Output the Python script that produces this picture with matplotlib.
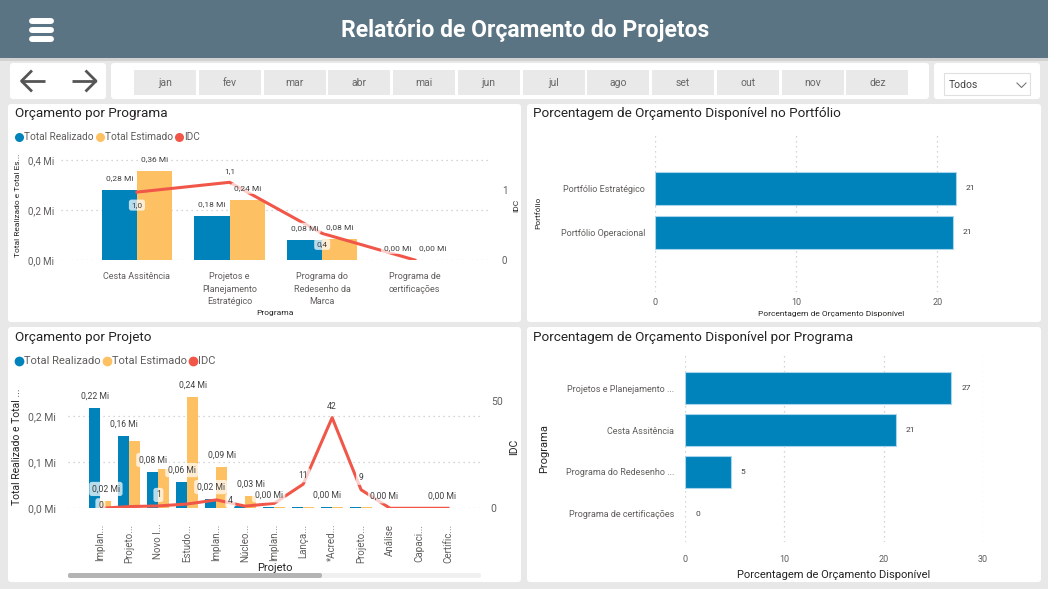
import numpy as np
import matplotlib
matplotlib.use('Agg')
import matplotlib.pyplot as plt
from matplotlib.patches import FancyBboxPatch, Rectangle

plt.rcParams['font.family'] = ['Roboto', 'DejaVu Sans']

# ── dados ─────────────────────────────────────────────────────────────
meses = ['jan', 'fev', 'mar', 'abr', 'mai', 'jun', 'jul', 'ago', 'set', 'out', 'nov', 'dez']

programas = ['Cesta Assitência', 'Projetos e\nPlanejamento\nEstratégico',
             'Programa do\nRedesenho da\nMarca', 'Programa de\ncertificações']
prog_realizado = [0.28, 0.176, 0.08, 0.0]
prog_estimado = [0.356, 0.24, 0.083, 0.0]
prog_idc = [0.97, 1.11, 0.38, 0.0]

projetos = ['Implan...', 'Projeto...', 'Novo I...', 'Estudo...', 'Implan...', 'Núcleo...',
            'Implan...', 'Lança...', '*Acred...', 'Projeto...', 'Análise', 'Capaci...', 'Certific...']
proj_realizado = [0.217, 0.157, 0.079, 0.057, 0.020, 0.004, 0.002, 0.002, 0.002, 0.002, 0, 0, 0]
proj_estimado = [0.016, 0.147, 0.085, 0.242, 0.090, 0.026, 0.002, 0.002, 0.002, 0.002, 0, 0, 0]
proj_idc = [0, 0.8, 1.1, 2.0, 3.9, 1.0, 2.3, 11.2, 42.1, 8.6, 0, 0, 0]

portfolios = ['Portfólio Estratégico', 'Portfólio Operacional']
port_pct = [21.3, 21.1]

prog_nomes_pct = ['Projetos e Planejamento ...', 'Cesta Assitência',
                  'Programa do Redesenho ...', 'Programa de certificações']
prog_pct = [26.8, 21.2, 4.6, 0.0]

# ── estilo ────────────────────────────────────────────────────────────
W, H = 1048, 589
BLUE = '#0083bb'
ORANGE = '#fdc163'
RED = '#f05749'
BG = '#e8e8e8'
HEADER = '#5a7483'
TXT = '#252423'
GRAY = '#605e5c'
GRID = '#c8c8c8'
PT = 0.72  # px -> pt

fig = plt.figure(figsize=(W / 100, H / 100), dpi=100)
fig.patch.set_facecolor(BG)

bg = fig.add_axes([0, 0, 1, 1])
bg.set_xlim(0, W)
bg.set_ylim(H, 0)
bg.axis('off')


def px_axes(x0, y0, x1, y1):
    return fig.add_axes([x0 / W, 1 - y1 / H, (x1 - x0) / W, (y1 - y0) / H])


def box(x0, y0, x1, y1, fc='white', r=3, ec='none', lw=0):
    bg.add_patch(FancyBboxPatch((x0, y0), x1 - x0, y1 - y0,
                                boxstyle=f'round,pad=0,rounding_size={r}',
                                fc=fc, ec=ec, lw=lw))


def val_label(ax, x, y, s, xyc, dx=0, dy=0, size=6):
    ax.annotate(s, (x, y), xycoords=xyc, xytext=(dx * PT, dy * PT),
                textcoords='offset points', ha='center', va='center',
                fontsize=size, color='#404040', zorder=10,
                bbox=dict(boxstyle='round,pad=0.3', fc='white', ec='none', alpha=0.72))


def legenda(x, y, size):
    itens = [('Total Realizado', BLUE), ('Total Estimado', ORANGE), ('IDC', RED)]
    for nome, cor in itens:
        bg.plot(x, y, 'o', ms=size * 0.75, color=cor)
        t = bg.text(x + 5, y, nome, fontsize=size, color=GRAY, va='center', ha='left')
        fig.canvas.draw()
        bb = t.get_window_extent()
        x = bb.x1 + 6


# ── cabeçalho ─────────────────────────────────────────────────────────
bg.add_patch(Rectangle((0, 0), W, 58, fc=HEADER, ec='none'))
bg.add_patch(Rectangle((0, 58), W, 3, fc='#d2d2d2', ec='none'))
for yy in (21, 29.5, 38.5):
    bg.plot([31.5, 50.5], [yy, yy], color='white', lw=4.3, solid_capstyle='round')
bg.text(525, 30, 'Relatório de Orçamento do Projetos', color='white', fontsize=16.5,
        fontweight='bold', ha='center', va='center')

# barra de navegação
box(10, 63, 106, 99)
box(111, 63, 929, 99)
box(934, 63, 1040, 99)
for xs in ([21, 45], [72, 96]):
    bg.plot(xs, [81, 81], color='#555555', lw=2, solid_capstyle='butt')
bg.plot([31, 21.5, 31], [71.5, 81, 90.5], color='#555555', lw=2)
bg.plot([86.5, 96, 86.5], [71.5, 81, 90.5], color='#555555', lw=2)
for i, m in enumerate(meses):
    x0 = 134 + i * 64.75
    bg.add_patch(Rectangle((x0, 70), 62, 25, fc='#e9e9e9', ec='none'))
    bg.text(x0 + 31, 83, m, fontsize=7.5, color='#666666', ha='center', va='center')
bg.add_patch(Rectangle((944, 73), 86, 22, fc='white', ec='#e0e0e0', lw=0.8))
bg.text(949, 85, 'Todos', fontsize=7.5, color='#444444', ha='left', va='center')
bg.plot([1017, 1021.5, 1026], [83, 87.5, 83], color='#777777', lw=0.8)

# painéis
box(8, 104, 521, 322)
box(527, 104, 1041, 322)
box(8, 327, 521, 582)
box(527, 327, 1041, 582)

bg.text(15, 114, 'Orçamento por Programa', fontsize=9.7, color=TXT, va='center')
bg.text(533, 114, 'Porcentagem de Orçamento Disponível no Portfólio', fontsize=9.7, color=TXT, va='center')
bg.text(15, 338, 'Orçamento por Projeto', fontsize=9.7, color=TXT, va='center')
bg.text(533, 338, 'Porcentagem de Orçamento Disponível por Programa', fontsize=9.7, color=TXT, va='center')

legenda(19, 137, 7.3)
legenda(19, 361, 8)


def fmt_mi(v):
    return f'{v:.2f} Mi'.replace('.', ',')


def combo(ax, real, est, idc, bw):
    x = np.arange(len(real))
    ax.bar(x - bw / 2, real, bw, color=BLUE, zorder=2)
    ax.bar(x + bw / 2, est, bw, color=ORANGE, zorder=2)
    ax.set_facecolor('none')
    for s in ax.spines.values():
        s.set_visible(False)
    ax.yaxis.grid(True, linestyle=(0, (1, 3)), color=GRID, lw=0.9)
    ax.set_axisbelow(True)
    ax.tick_params(length=0, colors=GRAY)
    ax2 = ax.twinx()
    ax2.plot(x, idc, color=RED, lw=2.2, zorder=3)
    for s in ax2.spines.values():
        s.set_visible(False)
    ax2.tick_params(length=0, colors=GRAY)
    return x, ax2


# ── Orçamento por Programa ────────────────────────────────────────────
ax = px_axes(61, 150, 488, 260)
x, ax2 = combo(ax, prog_realizado, prog_estimado, prog_idc, 0.38)
ax.set_xlim(-0.82, 3.79)
ax.set_ylim(0, 0.44)
ax2.set_ylim(0, 110 / 70)
ax.set_yticks([0, 0.2, 0.4], ['0,0 Mi', '0,2 Mi', '0,4 Mi'], fontsize=7)
ax2.set_yticks([0, 1], ['0', '1'], fontsize=7)
ax.set_xticks(x, programas, fontsize=6.5, linespacing=1.45)
ax.tick_params(axis='x', pad=9)
ax.tick_params(axis='y', pad=5)
ax2.tick_params(axis='y', pad=10)
ax.set_xlabel('Programa', fontsize=6, color=TXT, labelpad=3)
ax.set_ylabel('Total Realizado e Total Es...', fontsize=6, color=TXT, labelpad=5)
ax2.set_ylabel('IDC', fontsize=6, color=TXT, labelpad=4)
for i in range(len(x)):
    val_label(ax2, x[i] - 0.19, prog_realizado[i], fmt_mi(prog_realizado[i]), ax.transData, dy=11.7)
    val_label(ax2, x[i] + 0.19, prog_estimado[i], fmt_mi(prog_estimado[i]), ax.transData, dy=11.7)
idc_dy = [-13, 11, -11]
for i, dy in enumerate(idc_dy):
    val_label(ax2, x[i], prog_idc[i], f'{prog_idc[i]:.1f}'.replace('.', ','), ax2.transData, dy=dy)

# ── Orçamento por Projeto ─────────────────────────────────────────────
ax = px_axes(68, 385, 481, 508.3)
x, ax2 = combo(ax, proj_realizado, proj_estimado, proj_idc, 0.38)
ax.set_xlim(-1.12, 13.14)
ax.set_ylim(0, 123.3 / 460)
ax2.set_ylim(0, 123.3 / 2.153)
ax.set_yticks([0, 0.1, 0.2], ['0,0 Mi', '0,1 Mi', '0,2 Mi'], fontsize=7.5)
ax2.set_yticks([0, 50], ['0', '50'], fontsize=7.5)
ax.set_xticks(x, projetos, fontsize=7, rotation=90)
ax.tick_params(axis='x', pad=11)
ax.tick_params(axis='y', pad=9)
ax2.tick_params(axis='y', pad=7)
ax.set_xlabel('Projeto', fontsize=8, color=TXT, labelpad=0)
ax.set_ylabel('Total Realizado e Total ...', fontsize=7.5, color=TXT, labelpad=4)
ax2.set_ylabel('IDC', fontsize=7.5, color=TXT, labelpad=5)
real_lbl = [0, 1, 2, 3, 4, 6, 8, 10, 12]
est_lbl = [0, 3, 4, 5]
for i in real_lbl:
    val_label(ax2, x[i] - 0.19, proj_realizado[i], fmt_mi(proj_realizado[i]), ax.transData, dy=12, size=6.2)
for i in est_lbl:
    val_label(ax2, x[i] + 0.19, proj_estimado[i], fmt_mi(proj_estimado[i]), ax.transData, dy=12, size=6.2)
idc_lbl = [(0, 0, 3), (2, 0, 11), (4, 14, -1), (7, 0, 9), (8, 0, 11), (9, 0, 12)]
for i, dx, dy in idc_lbl:
    val_label(ax2, x[i], proj_idc[i], f'{proj_idc[i]:.0f}', ax2.transData, dx=dx, dy=dy, size=6.2)

# barra de rolagem
bg.add_patch(FancyBboxPatch((68, 573), 413, 5, boxstyle='round,pad=0,rounding_size=2',
                            fc='#f0f0f0', ec='none'))
bg.add_patch(FancyBboxPatch((68, 573), 254, 5, boxstyle='round,pad=0,rounding_size=2',
                            fc='#b4b4b4', ec='none'))


def barras_h(ax, nomes, vals, tick_fs):
    y = np.arange(len(vals))
    lws = [0.8 if v > 0 else 0 for v in vals]
    ax.barh(y, vals, 0.75, color=BLUE, edgecolor='#a8d4ec', lw=lws, zorder=2)
    ax.set_facecolor('none')
    for s in ax.spines.values():
        s.set_visible(False)
    ax.xaxis.grid(True, linestyle=(0, (1, 3)), color=GRID, lw=0.9)
    ax.set_axisbelow(True)
    ax.tick_params(length=0, colors=GRAY)
    ax.set_yticks(y, nomes, fontsize=tick_fs)
    for i, v in enumerate(vals):
        ax.annotate(f'{v:.0f}', (v, i), xytext=(10 * PT, 0), textcoords='offset points',
                    ha='left', va='center', fontsize=6, color='#404040')
    return y


# ── Portfólio ─────────────────────────────────────────────────────────
ax = px_axes(655, 133, 1008, 292)
barras_h(ax, portfolios, port_pct, 6.5)
ax.set_xlim(0, 25)
ax.set_ylim(2.35, -1.25)
ax.set_xticks([0, 10, 20], ['0', '10', '20'], fontsize=6.5)
ax.tick_params(axis='x', pad=4)
ax.tick_params(axis='y', pad=7)
ax.set_xlabel('Porcentagem de Orçamento Disponível', fontsize=6, color=TXT, labelpad=3)
ax.set_ylabel('Portfólio', fontsize=6, color=TXT, labelpad=14)

# ── Programa (%) ──────────────────────────────────────────────────────
ax = px_axes(685, 355, 983, 542)
barras_h(ax, prog_nomes_pct, prog_pct, 6.5)
ax.set_xlim(0, 30)
ax.set_ylim(3.67, -0.79)
ax.set_xticks([0, 10, 20, 30], ['0', '10', '20', '30'], fontsize=6.5)
ax.tick_params(axis='x', pad=9)
ax.tick_params(axis='y', pad=8)
ax.set_xlabel('Porcentagem de Orçamento Disponível', fontsize=8, color=TXT, labelpad=5)
ax.set_ylabel('Programa', fontsize=8, color=TXT, labelpad=12)

fig.savefig('out.png', dpi=100, facecolor=fig.get_facecolor())
